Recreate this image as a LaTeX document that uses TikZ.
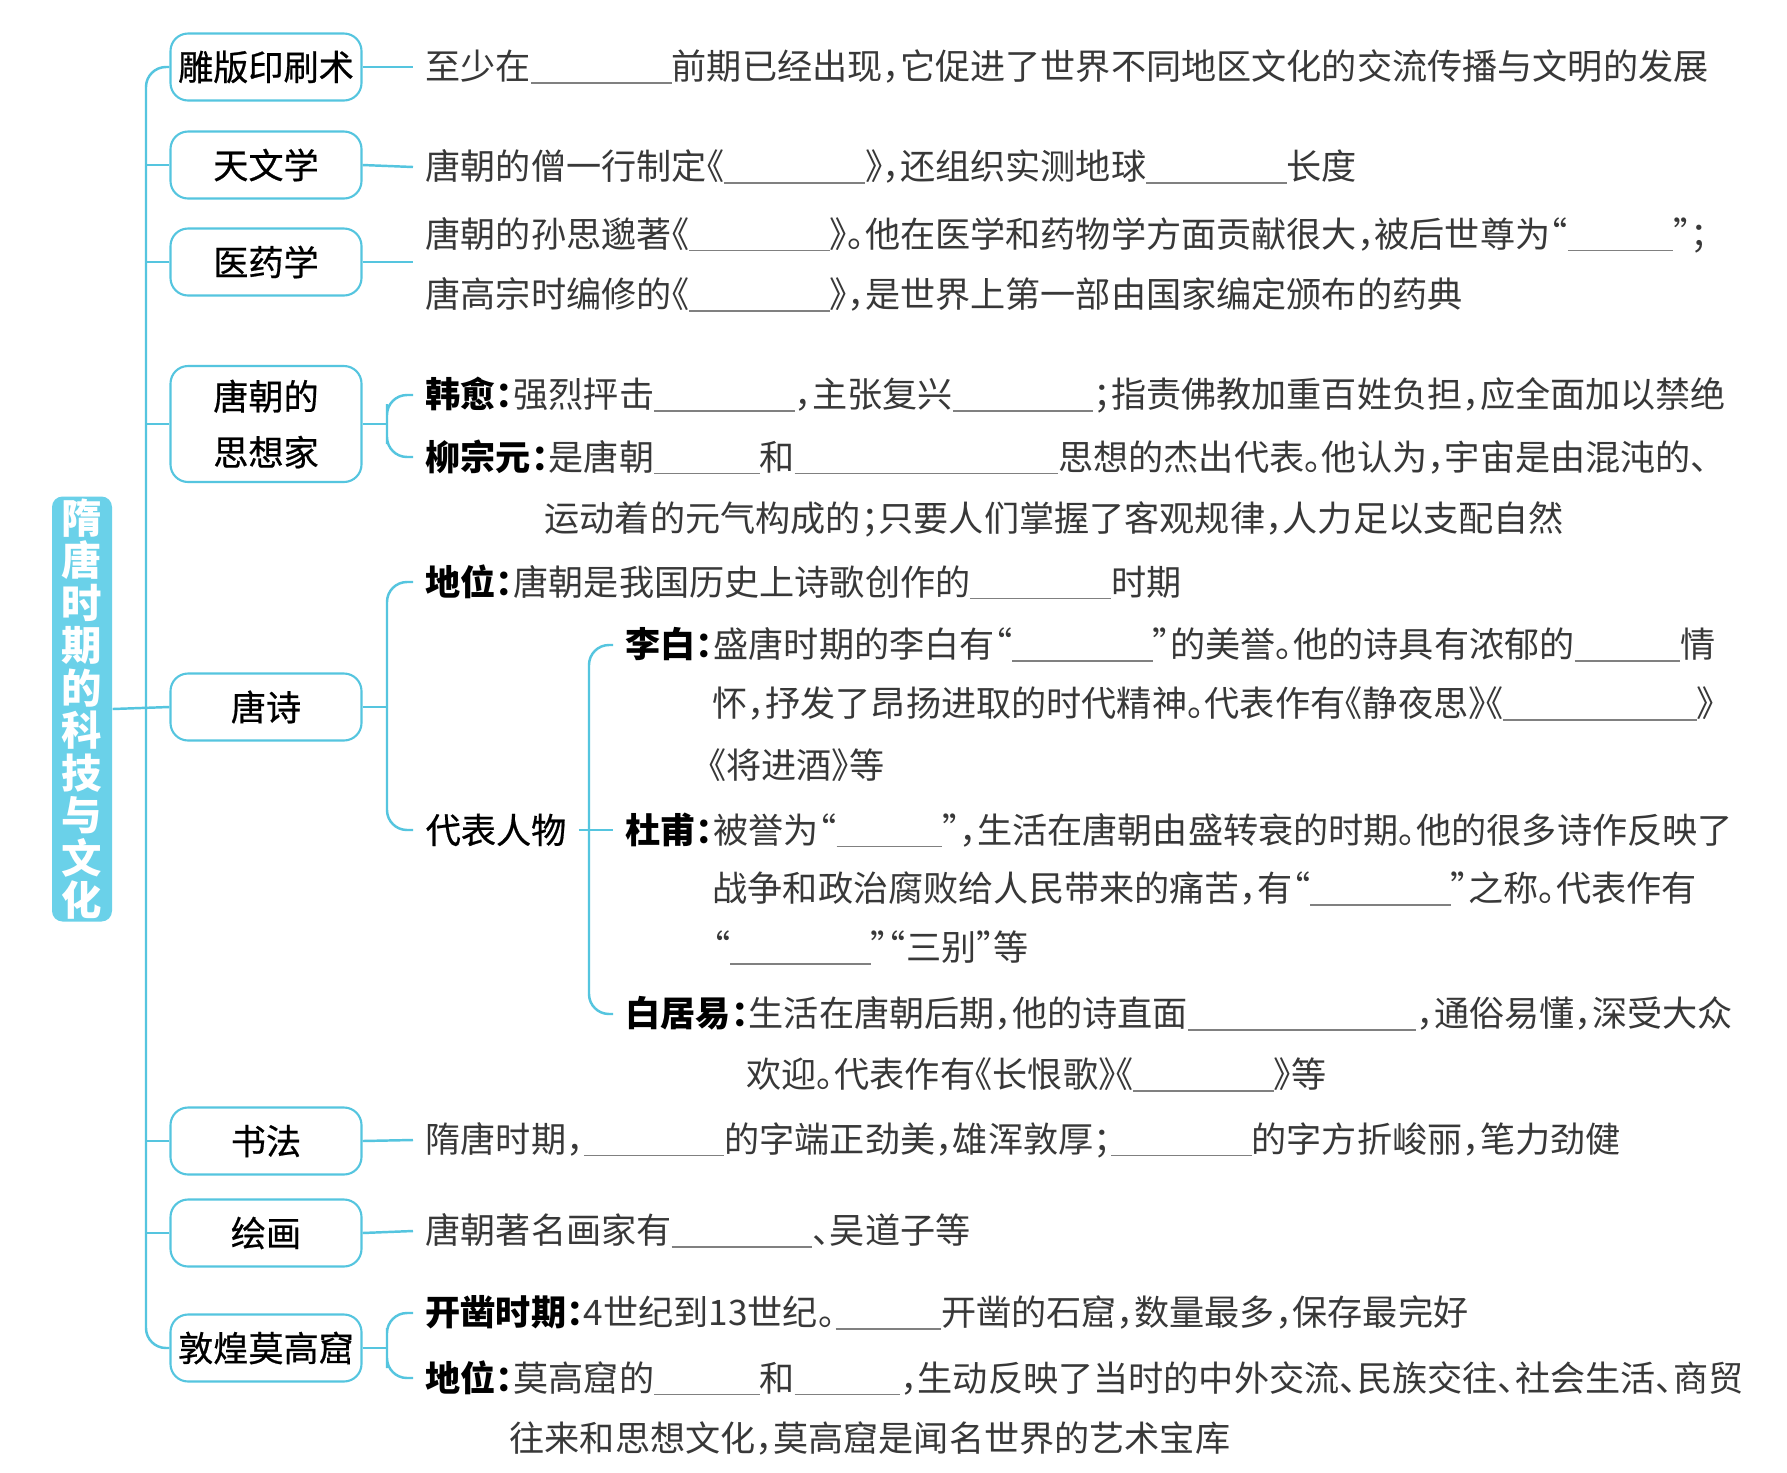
\documentclass[tikz,border=0pt]{standalone}
\usepackage{fontspec}
\setmainfont{Noto Sans CJK SC}[RawFeature=+halt]
\newfontfamily\headfont{Noto Sans CJK SC}[RawFeature=+halt,FakeBold=0.6]
\usetikzlibrary{positioning}

\definecolor{linecyan}{HTML}{55C5DF}
\definecolor{titlecyan}{HTML}{6AD1E9}
\definecolor{inkgray}{HTML}{383838}

\newcommand\blank[1]{\textcolor{gray}{\rule[-0.12em]{#1em}{0.5pt}}}
\newcommand\key[1]{{\color{black}\bfseries #1}}

\tikzset{
  topic/.style={draw=linecyan, line width=0.6pt, rounded corners=5pt,
    minimum width=19.1mm, minimum height=6.7mm, inner sep=0pt, align=center,
    font=\headfont\fontsize{10}{15.9}\selectfont},
  leaf/.style={anchor=west, inner xsep=1.2mm, inner ysep=0pt,
    font=\fontsize{10}{12}\selectfont, text=inkgray},
  link/.style={draw=linecyan, line width=0.7pt, rounded corners=2mm},
}

\begin{document}
\begin{tikzpicture}[x=0.1mm, y=-0.1mm]
\useasboundingbox[fill=white] (0,0) rectangle (1787,1473);

% Title bar
\node[fill=titlecyan, rounded corners=3pt, minimum width=6mm, minimum height=42.5mm,
  inner sep=0pt, align=center, text=white, font=\bfseries\fontsize{11.5}{12.1}\selectfont]
  (title) at (82,709) {隋\\唐\\时\\期\\的\\科\\技\\与\\文\\化};

% First level topics
\node[topic] (diao) at (266,67) {雕版印刷术};
\node[topic] (tian) at (266,165) {天文学};
\node[topic] (yi) at (266,262) {医药学};
\node[topic, minimum height=11.6mm] (sixiang) at (266,424) {唐朝的\\思想家};
\node[topic] (tangshi) at (266,707) {唐诗};
\node[topic] (shufa) at (266,1141) {书法};
\node[topic] (huihua) at (266,1233) {绘画};
\node[topic] (dunhuang) at (266,1348) {敦煌莫高窟};

% Spine
\coordinate (spine) at (146,707);
\draw[link] (diao.west) -| (spine) |- (dunhuang.west);
\foreach \t in {tian,yi,sixiang,shufa,huihua}
  \draw[link] (\t.west) -- (\t.west -| spine);
\draw[link] (title.east) -- (tangshi.west);

% Leaves
\node[leaf] (r1) at (413,67) {至少在\blank{4}前期已经出现，它促进了世界不同地区文化的交流传播与文明的发展};
\node[leaf] (r2) at (413,167) {唐朝的僧一行制定《\blank{4}》，还组织实测地球\blank{4}长度};
\coordinate (r3) at (413,262);
\node[leaf] (r3a) at (413,235) {唐朝的孙思邈著《\blank{4}》。他在医学和药物学方面贡献很大，被后世尊为“\blank{3}”；};
\node[leaf] (r3b) at (413,295) {唐高宗时编修的《\blank{4}》，是世界上第一部由国家编定颁布的药典};
\draw[link] (diao.east) -- (r1.west);
\draw[link] (tian.east) -- (r2.west);
\draw[link] (yi.east) -- (r3);

% Thinkers
\coordinate (b4) at (387,424);
\node[leaf] (han) at (413,395) {\key{韩愈：}强烈抨击\blank{4}，主张复兴\blank{4}；指责佛教加重百姓负担，应全面加以禁绝};
\node[leaf] (liu) at (413,457) {\key{柳宗元：}是唐朝\blank{3}和\blank{7.5}思想的杰出代表。他认为，宇宙是由混沌的、};
\node[leaf] (liu2) at (532,519) {运动着的元气构成的；只要人们掌握了客观规律，人力足以支配自然};
\draw[link] (sixiang.east) -- (b4);
\draw[link] (han.west) -| (b4) |- (liu.west);

% Tang poetry
\coordinate (b5) at (387,707);
\node[leaf] (diwei) at (413,582) {\key{地位：}唐朝是我国历史上诗歌创作的\blank{4}时期};
\node[leaf, text=black, font=\headfont\fontsize{10}{12}\selectfont] (daibiao) at (413,830) {代表人物};
\draw[link] (tangshi.east) -- (b5);
\draw[link] (diwei.west) -| (b5) |- (daibiao.west);

\coordinate (b6) at (589,830);
\node[leaf] (libai) at (613,645) {\key{李白：}盛唐时期的李白有“\blank{4}”的美誉。他的诗具有浓郁的\blank{3}情};
\node[leaf] (libai2) at (700,704) {怀，抒发了昂扬进取的时代精神。代表作有《静夜思》《\blank{5.5}》};
\node[leaf] (libai3) at (696,765) {《将进酒》等};
\node[leaf] (dufu) at (613,830) {\key{杜甫：}被誉为“\blank{3}”，生活在唐朝由盛转衰的时期。他的很多诗作反映了};
\node[leaf] (dufu2) at (700,889) {战争和政治腐败给人民带来的痛苦，有“\blank{4}”之称。代表作有};
\node[leaf] (dufu3) at (700,948) {“\blank{4}”“三别”等};
\node[leaf] (baijuyi) at (613,1014) {\key{白居易：}生活在唐朝后期，他的诗直面\blank{6.5}，通俗易懂，深受大众};
\node[leaf] (baijuyi2) at (734,1075) {欢迎。代表作有《长恨歌》《\blank{4}》等};
\draw[link] (daibiao.east) -- (dufu.west);
\draw[link] (libai.west) -| (b6) |- (baijuyi.west);

% Calligraphy, painting
\node[leaf] (shu) at (413,1140) {隋唐时期，\blank{4}的字端正劲美，雄浑敦厚；\blank{4}的字方折峻丽，笔力劲健};
\node[leaf] (hui) at (413,1231) {唐朝著名画家有\blank{4}、吴道子等};
\draw[link] (shufa.east) -- (shu.west);
\draw[link] (huihua.east) -- (hui.west);

% Dunhuang
\coordinate (b7) at (387,1348);
\node[leaf] (kaizao) at (413,1313) {\key{开凿时期：}4世纪到13世纪。\blank{3}开凿的石窟，数量最多，保存最完好};
\node[leaf] (dw) at (413,1378) {\key{地位：}莫高窟的\blank{3}和\blank{3}，生动反映了当时的中外交流、民族交往、社会生活、商贸};
\node[leaf] (dw2) at (497,1438) {往来和思想文化，莫高窟是闻名世界的艺术宝库};
\draw[link] (dunhuang.east) -- (b7);
\draw[link] (kaizao.west) -| (b7) |- (dw.west);
\end{tikzpicture}
\end{document}
